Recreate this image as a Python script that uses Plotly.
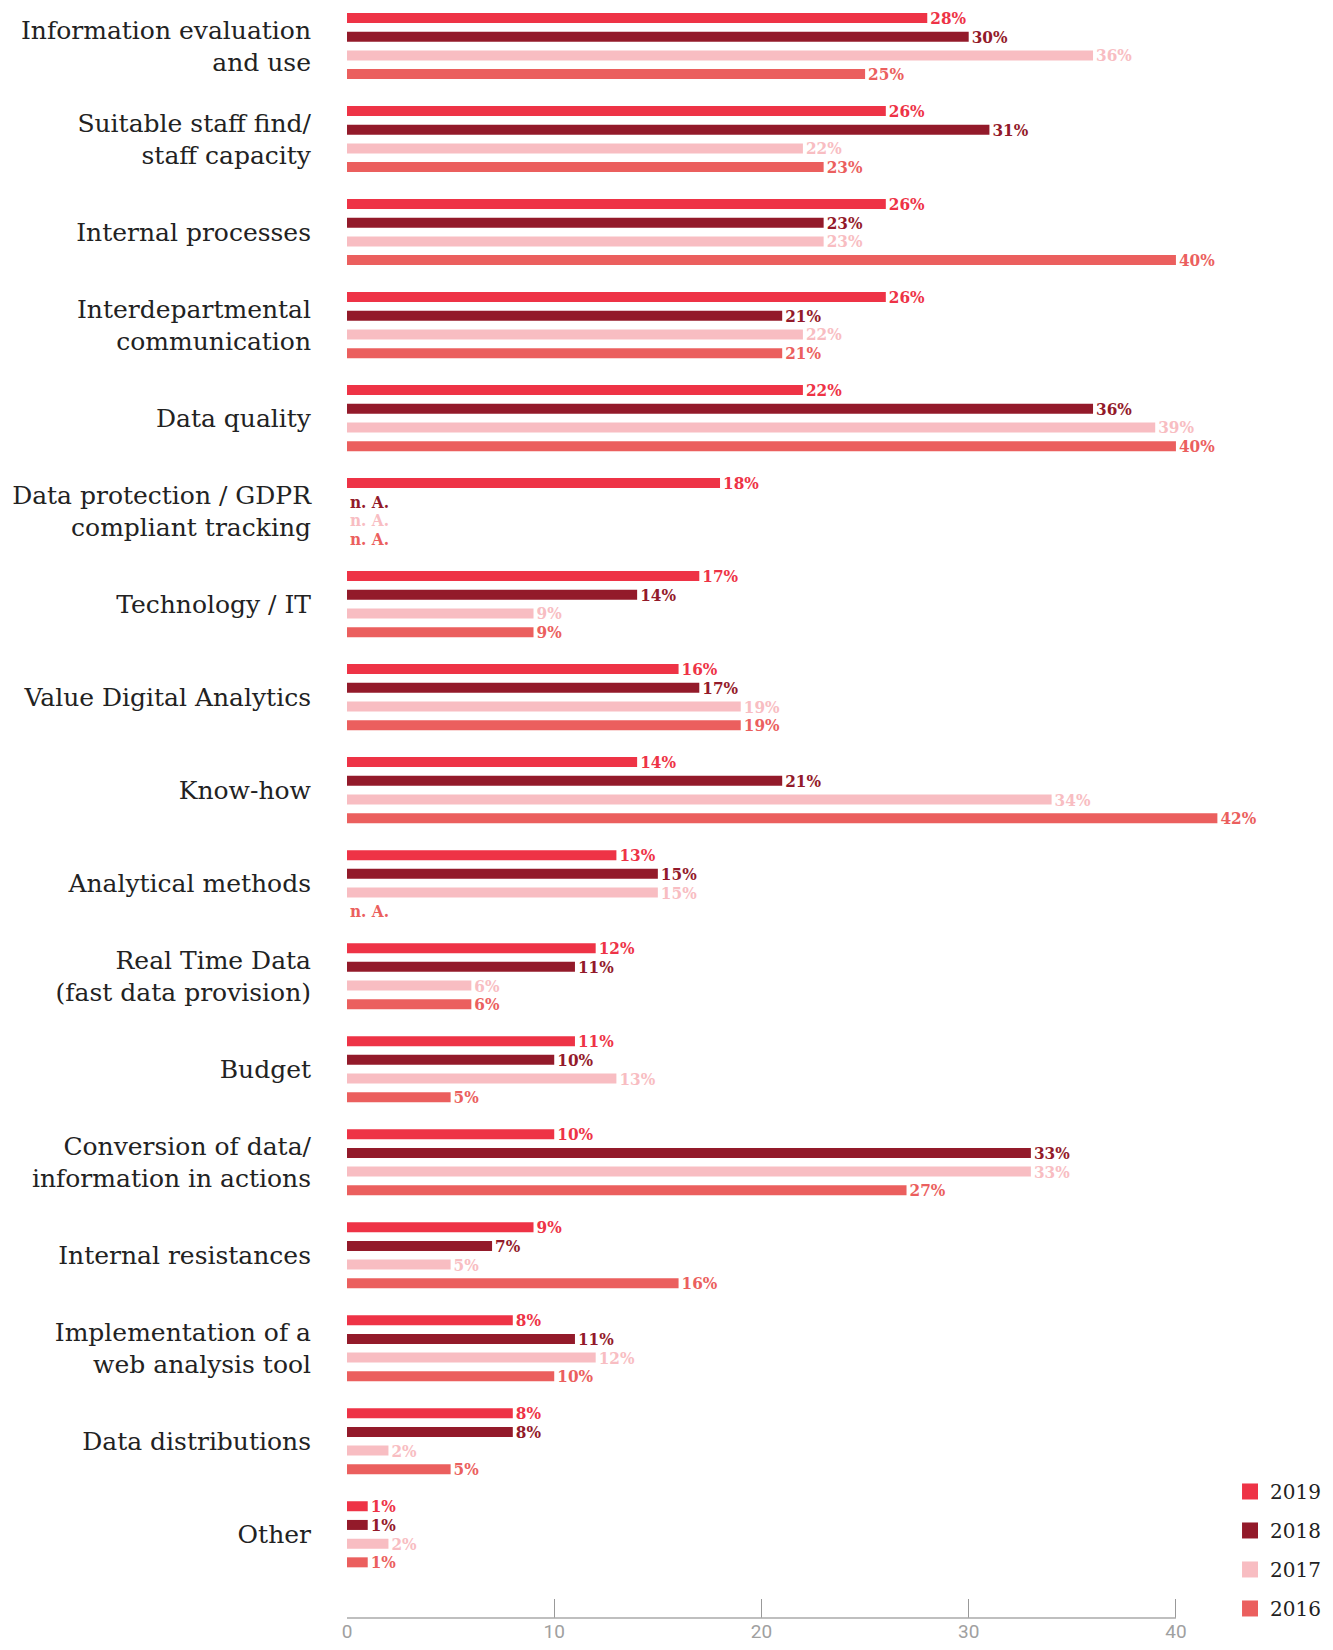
import plotly.graph_objects as go

categories = [
    "Information evaluation<br>and use",
    "Suitable staff find/<br>staff capacity",
    "Internal processes",
    "Interdepartmental<br>communication",
    "Data quality",
    "Data protection / GDPR<br>compliant tracking",
    "Technology / IT",
    "Value Digital Analytics",
    "Know-how",
    "Analytical methods",
    "Real Time Data<br>(fast data provision)",
    "Budget",
    "Conversion of data/<br>information in actions",
    "Internal resistances",
    "Implementation of a<br>web analysis tool",
    "Data distributions",
    "Other",
]

years = ["2019", "2018", "2017", "2016"]
v2019 = [28, 26, 26, 26, 22, 18, 17, 16, 14, 13, 12, 11, 10, 9, 8, 8, 1]
v2018 = [30, 31, 23, 21, 36, None, 14, 17, 21, 15, 11, 10, 33, 7, 11, 8, 1]
v2017 = [36, 22, 23, 22, 39, None, 9, 19, 34, 15, 6, 13, 33, 5, 12, 2, 2]
v2016 = [25, 23, 40, 21, 40, None, 9, 19, 42, None, 6, 5, 27, 16, 10, 5, 1]
series = [v2019, v2018, v2017, v2016]
colors = ["#EE3346", "#931A2A", "#F8BDC2", "#EB5F5E"]
xticks = [0, 10, 20, 30, 40]

fig = go.Figure()
for yr, vals, col in zip(years, series, colors):
    xs = [0 if v is None else v for v in vals]
    txt = ["n. A." if v is None else f"{v}%" for v in vals]
    fig.add_trace(go.Bar(
        y=categories, x=xs, orientation="h", name=yr,
        marker=dict(color=col, line=dict(width=0)),
        text=txt, textposition="outside", constraintext="none",
        textfont=dict(family="DejaVu Serif Condensed", size=17, color=col, weight="bold"),
        cliponaxis=False, showlegend=False,
    ))

# legend entries with larger square swatches
for yr, col in zip(years, colors):
    fig.add_trace(go.Scatter(
        x=[None], y=[None], mode="markers", name=yr, legendgroup=yr,
        marker=dict(symbol="square", size=20, color=col),
        showlegend=True, hoverinfo="skip",
    ))

fig.add_shape(type="line", xref="x", yref="paper", x0=xticks[0], x1=xticks[-1],
              y0=0, y1=0, line=dict(color="#aaaaaa", width=1.5))

fig.update_layout(
    width=1317, height=1634,
    margin=dict(l=339, r=4, t=0, b=24, autoexpand=False),
    paper_bgcolor="white", plot_bgcolor="white",
    barmode="group", bargap=0.196, bargroupgap=0.465,
    font=dict(family="DejaVu Serif", color="#222222"),
    legend=dict(x=0.9066, xanchor="left", y=-0.0062, yanchor="bottom",
                font=dict(family="DejaVu Serif", size=20, color="#222222"),
                tracegroupgap=10, bgcolor="rgba(0,0,0,0)"),
    xaxis=dict(range=[0, 47], tickvals=xticks, ticks="inside", ticklen=19,
               tickcolor="#999999", tickwidth=1, showgrid=False, zeroline=False,
               showline=False, ticklabelstandoff=0, automargin=False,
               tickfont=dict(family="Roboto", size=19, color="#a0a0a0")),
    yaxis=dict(type="category", range=[16.90, -0.409], showgrid=False,
               zeroline=False, showline=False, ticks="", ticklabelstandoff=35,
               automargin=False,
               tickfont=dict(family="DejaVu Serif", size=25, color="#222222")),
)

fig.write_html("out.html")
